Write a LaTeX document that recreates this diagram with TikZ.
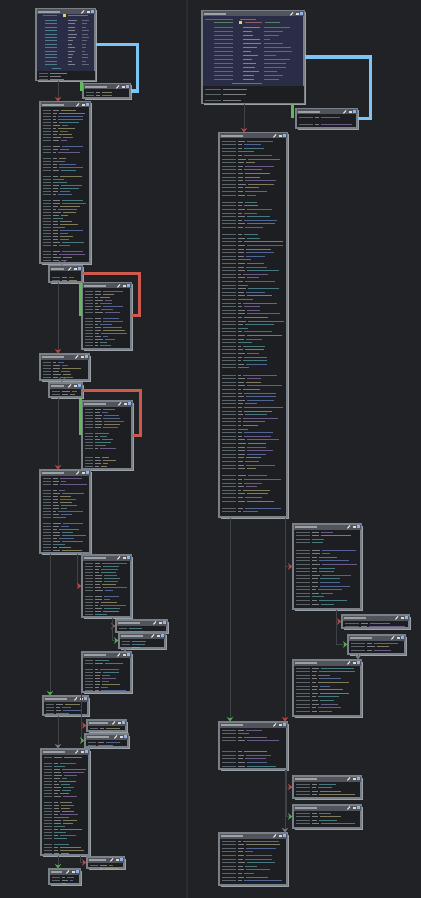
\documentclass[tikz,border=0pt]{standalone}
\usetikzlibrary{fit,arrows.meta,calc}
\definecolor{bg}{HTML}{212226}
\definecolor{divider}{HTML}{2B2C30}
\definecolor{body}{HTML}{1D1E22}
\definecolor{entrybody}{HTML}{2B2D46}
\definecolor{blkborder}{HTML}{7A8087}
\definecolor{blkshadow}{HTML}{9AA1A8}
\definecolor{titlebar}{HTML}{51545A}
\definecolor{titletxt}{HTML}{9DA1A6}
\definecolor{addr}{HTML}{76838A}
\definecolor{mnem}{HTML}{A4A7AB}
\definecolor{opblue}{HTML}{6684C4}
\definecolor{oppurple}{HTML}{8E74B4}
\definecolor{opyellow}{HTML}{A8A474}
\definecolor{opteal}{HTML}{58A2A6}
\definecolor{oppink}{HTML}{C0707A}
\definecolor{opgreen}{HTML}{6AA866}
\definecolor{edgeblue}{HTML}{7CC6F6}
\definecolor{edgegreen}{HTML}{62B85A}
\definecolor{edgered}{HTML}{D0594E}
\definecolor{thingray}{HTML}{3F4246}
\definecolor{arrred}{HTML}{C0463E}
\definecolor{arrgreen}{HTML}{4FB04A}
\definecolor{arrgray}{HTML}{7A7E84}
\definecolor{iconblue}{HTML}{8FB0E8}
\definecolor{iconyellow}{HTML}{E8D25A}
\tikzset{
  txt/.style={line width=0.45pt, opacity=0.7},
  blockbox/.style={inner sep=0pt, draw=blkborder, line width=0.6pt},
  thinedge/.style={draw=thingray, line width=0.5pt},
  thickblue/.style={draw=edgeblue, line width=1.6pt},
  thickgreen/.style={draw=edgegreen, line width=1.5pt},
  thickred/.style={draw=edgered, line width=1.5pt},
  tipred/.style={-{Stealth[length=2.2pt,width=3.2pt,inset=0.8pt,color=arrred]}},
  tipgreen/.style={-{Stealth[length=2.2pt,width=3.2pt,inset=0.8pt,color=arrgreen]}},
  tipgray/.style={-{Stealth[length=2.2pt,width=3.2pt,inset=0.8pt,color=arrgray]}},
}
% block: name, x1, y1, x2, y2, body colour
\newcommand{\blk}[6]{%
  \fill[blkshadow] (#2+1.5,#3+1.5) rectangle (#4+2,#5+2);
  \node[blockbox, fill=#6, fit={(#2,#3)(#4,#5)}] (#1) {};
  \fill[titlebar] (#2+0.5,#3+0.5) rectangle (#4-0.5,#3+5.5);
  \pgfmathsetmacro{\ttlen}{min(22,#4-#2-20)}
  \draw[titletxt,line width=0.55pt] (#2+2,#3+3) -- ++(\ttlen,0);
  \fill[iconblue] (#4-4,#3+1.3) rectangle (#4-1.5,#3+4.3);
  \fill[white!85!black] (#4-8.5,#3+1.6) rectangle (#4-5.5,#3+4);
  \draw[white,line width=0.45pt] (#4-13.5,#3+4.3) -- (#4-11,#3+1.5);
}
% rows of code: x1, ystart, x2, yend, address length, spacing
\newcommand{\trows}[6]{%
  \pgfmathsetmacro{\ra}{#2}%
  \pgfmathsetmacro{\rb}{#2+#6}%
  \pgfmathsetmacro{\rz}{#4}%
  \edef\rowlist{\ra,\rb,...,\rz}%
  \foreach \yy in \rowlist {%
    \pgfmathsetmacro{\xa}{#1+3}%
    \pgfmathsetmacro{\xb}{#1+3+#5}%
    \pgfmathsetmacro{\xc}{\xb+2}%
    \pgfmathsetmacro{\xd}{\xc+3+5*rnd}%
    \pgfmathsetmacro{\xe}{\xd+2}%
    \pgfmathsetmacro{\xf}{\xe+(#3-3-\xe)*(0.2+0.8*rnd)}%
    \pgfmathtruncatemacro{\cc}{4*rnd}%
    \pgfmathtruncatemacro{\kind}{100*rnd}%
    \ifcase\cc\def\oc{opblue}\or\def\oc{oppurple}\or\def\oc{opyellow}\else\def\oc{opteal}\fi
    \ifnum\kind<6\relax
    \else\ifnum\kind<16\relax
      \draw[addr,txt] (\xa,\yy) -- (\xb,\yy);
      \draw[opteal,txt] (\xc,\yy) -- ++(10+6*rnd,0);
    \else
      \draw[addr,txt] (\xa,\yy) -- (\xb,\yy);
      \draw[mnem,txt] (\xc,\yy) -- (\xd,\yy);
      \ifdim\xf pt>\xe pt \draw[\oc,txt] (\xe,\yy) -- (\xf,\yy);\fi
    \fi\fi
  }%
}
\begin{document}
\begin{tikzpicture}[x=0.5pt,y=-0.5pt]
\pgfmathsetseed{11}
\fill[bg] (0,0) rectangle (421,898);
\useasboundingbox (0,0) rectangle (421,898);
\draw[divider,line width=1pt] (187,0) -- (187,898);

% ---------------- left graph ----------------
\blk{L1}{36}{9}{95}{80}{entrybody}
\fill[body] (36.5,71.5) rectangle (94.5,79.7);
\draw[addr,txt] (43,15.5) -- (57,15.5);
\fill[iconyellow] (63,14) rectangle (66,17);
\draw[opgreen,txt] (68,15.5) -- (88,15.5);
\foreach \yy in {20.5,23.9,...,65}{%
  \draw[opteal,txt] (45,\yy) -- (57,\yy);
  \draw[mnem,txt] (68,\yy) -- ++(4+5*rnd,0);
  \draw[addr,txt] (82,\yy) -- ++(3+6*rnd,0);
}
\draw[opteal,txt] (52,68.5) -- (61,68.5);
\foreach \yy in {73.5,76.5,79}{%
  \draw[addr,txt] (39,\yy) -- (48,\yy);
  \draw[mnem,txt] (50,\yy) -- ++(8+12*rnd,0);
}
\blk{L2}{83}{84}{130}{98}{body}
\trows{83}{92}{130}{97}{8}{3.2}
\blk{L3}{40}{102}{90}{263}{body}
\trows{40}{110}{90}{261}{8}{3.0}
\blk{L4}{49}{266}{82}{282}{body}
\trows{49}{274}{82}{280}{8}{3.0}
\blk{L5}{82}{283}{131}{349}{body}
\trows{82}{291}{131}{347}{8}{3.0}
\blk{L6}{40}{354}{89}{380}{body}
\trows{40}{362}{89}{378}{8}{3.0}
\blk{L7}{49}{383}{82}{397}{body}
\trows{49}{391}{82}{395}{8}{3.0}
\blk{L8}{82}{401}{132}{469}{body}
\trows{82}{409}{132}{467}{8}{3.0}
\blk{L9}{40}{470}{90}{553}{body}
\trows{40}{478}{90}{551}{8}{3.0}
\blk{L10}{82}{555}{131}{617}{body}
\trows{82}{563}{131}{615}{8}{3.0}
\blk{L11}{116}{620}{167}{632}{body}
\trows{116}{628}{167}{631}{8}{3.0}
\blk{L12}{119}{633}{165}{648}{body}
\trows{119}{641}{165}{647}{8}{3.0}
\blk{L13}{82}{652}{131}{692}{body}
\trows{82}{660}{131}{690}{8}{3.0}
\blk{L14}{43}{696}{88}{715}{body}
\trows{43}{704}{88}{713}{8}{3.0}
\blk{L15}{87}{720}{126}{731}{body}
\trows{87}{728}{126}{730}{8}{3.0}
\blk{L16}{85}{734}{128}{747}{body}
\trows{85}{742}{128}{746}{8}{3.0}
\blk{L17}{41}{749}{89}{855}{body}
\trows{41}{757}{89}{853}{8}{3.0}
\blk{L18}{87}{857}{124}{868}{body}
\trows{87}{865}{124}{867}{8}{3.0}
\blk{L19}{49}{869}{80}{884}{body}
\trows{49}{877}{80}{883}{8}{3.0}

% ---------------- right graph ----------------
\blk{R1}{202}{11}{304}{103}{entrybody}
\fill[body] (202.5,86) rectangle (303.5,102.7);
\draw[addr,txt] (205,19) -- (233,19);
\draw[opteal,txt] (240,19) -- (256,19);
\draw[opgreen,txt] (214,22.5) -- (233,22.5);
\fill[iconyellow] (239,21) rectangle (242,24);
\draw[oppink,txt] (245,22.5) -- (262,22.5);
\draw[opgreen,txt] (265,22.5) -- (280,22.5);
\foreach \yy in {27,31,...,80}{%
  \draw[addr,txt] (214,\yy) -- (233,\yy);
  \draw[mnem,txt] (243,\yy) -- ++(8+10*rnd,0);
  \draw[oppurple,txt] (264,\yy) -- ++(6+28*rnd,0);
}
\draw[opteal,txt] (232,83.5) -- (262,83.5);
\foreach \yy in {89,94.5,100}{%
  \draw[addr,txt] (205,\yy) -- (221,\yy);
  \draw[mnem,txt] (223,\yy) -- ++(18+16*rnd,0);
}
\blk{R2}{296}{109}{357}{128}{body}
\trows{296}{117}{357}{126}{14}{3.6}
\blk{R3}{219}{133}{287}{517}{body}
\trows{219}{141}{287}{515}{14}{3.6}
\blk{R4}{293}{524}{361}{609}{body}
\trows{293}{532}{361}{607}{14}{3.6}
\blk{R5}{342}{615}{409}{628}{body}
\trows{342}{623}{409}{627}{14}{3.6}
\blk{R6}{348}{635}{405}{654}{body}
\trows{348}{643}{405}{652}{14}{3.6}
\blk{R7}{293}{660}{361}{716}{body}
\trows{293}{668}{361}{714}{14}{3.6}
\blk{R8}{219}{722}{287}{769}{body}
\trows{219}{730}{287}{767}{14}{3.6}
\blk{R9}{293}{776}{361}{798}{body}
\trows{293}{784}{361}{797}{14}{3.6}
\blk{R10}{293}{805}{361}{828}{body}
\trows{293}{813}{361}{827}{14}{3.6}
\blk{R11}{219}{833}{287}{885}{body}
\trows{219}{841}{287}{883}{14}{3.6}

% ---------------- edge columns ----------------
\coordinate (cx50) at (50,0);
\coordinate (cx58) at (58,0);
\coordinate (cx62) at (62,0);
\coordinate (cx77) at (77,0);
\coordinate (cx80) at (80.5,0);
\coordinate (cx81) at (81.5,0);
\coordinate (cx112) at (112,0);
\coordinate (cx125) at (125,0);
\coordinate (cl81) at (81,0);
\coordinate (cx230) at (230,0);
\coordinate (cx244) at (244,0);
\coordinate (cx285) at (285,0);
\coordinate (cx286) at (286.5,0);
\coordinate (cx292) at (292.5,0);
\coordinate (cx336) at (336,0);
\coordinate (cx358) at (358,0);

% thin edges, left
\draw[thinedge,tipred] (cx58 |- L1.south) -- (cx58 |- L3.north);
\draw[thinedge,tipgray] (cx62 |- L3.south) -- (cx62 |- L4.north);
\draw[thinedge,tipred] (cx58 |- L4.south) -- (cx58 |- L6.north);
\draw[thinedge,tipgray] (cx62 |- L6.south) -- (cx62 |- L7.north);
\draw[thinedge,tipred] (cx58 |- L7.south) -- (cx58 |- L9.north);
\draw[thinedge,tipred] (cx77 |- L9.south) |- (L10.west);
\draw[thinedge,tipgreen] (cx50 |- L9.south) -- (cx50 |- L14.north);
\draw[thinedge,tipred] (cx112 |- L10.south) |- (L11.west);
\draw[thinedge,tipgreen] (cx112 |- L10.south) |- (L12.west);
\draw[thinedge,tipgray] (cx125 |- L12.south) -- (cx125 |- L13.north);
\draw[thinedge,tipred] (cl81 |- L13.south) |- (L15.west);
\draw[thinedge,tipgreen] (cl81 |- L13.south) |- (L16.west);
\draw[thinedge,tipgray] (cx58 |- L14.south) -- (cx58 |- L17.north);
\draw[thinedge,tipred] (cx80 |- L17.south) |- (L18.west);
\draw[thinedge,tipgreen] (cx58 |- L17.south) -- (cx58 |- L19.north);

% thin edges, right
\draw[thinedge,tipred] (cx244 |- R1.south) -- (cx244 |- R3.north);
\draw[thinedge,tipred] (cx285 |- R3.south) |- (R4.west);
\draw[thinedge,tipgreen] (cx230 |- R3.south) -- (cx230 |- R8.north);
\draw[thinedge,tipred] (cx285 |- R3.south) -- (cx285 |- R8.north);
\draw[thinedge,tipred] (cx336 |- R4.south) |- (R5.west);
\draw[thinedge,tipgreen] (cx336 |- R4.south) |- (R6.west);
\draw[thinedge,tipgray] (cx358 |- R6.south) -- (cx358 |- R7.north);
\draw[thinedge,tipred] (cx286 |- R8.south) |- (R9.west);
\draw[thinedge,tipgreen] (cx286 |- R8.south) |- (R10.west);
\draw[thinedge,tipgray] (cx285 |- R8.south) -- (cx285 |- R11.north);

% thick edges
\draw[thickblue] (L2.east) -- ++(7,0) |- (L1.east);
\draw[thickgreen] (cx81 |- L1.south) -- (cx81 |- L2.west);
\draw[thickred] (L4.east) -| ($(L5.east)+(7.5,0)$) -- (L5.east);
\draw[thickgreen] (cx80 |- L4.south) -- (cx80 |- L5.west);
\draw[thickred] (L7.east) -| ($(L8.east)+(7.5,0)$) -- (L8.east);
\draw[thickgreen] (cx80 |- L7.south) -- (cx80 |- L8.west);
\draw[thickblue] (R2.east) -- ++(13,0) |- (R1.east);
\draw[thickgreen] (cx292 |- R1.south) -- (cx292 |- R2.west);
\end{tikzpicture}
\end{document}
